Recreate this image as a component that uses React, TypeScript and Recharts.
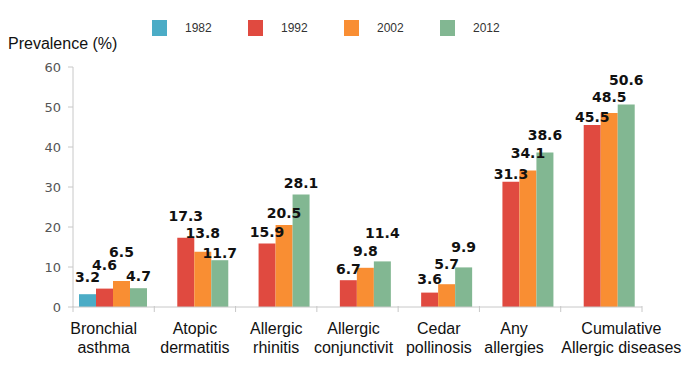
import React from 'react'
import { BarChart, Bar, XAxis, YAxis, LabelList } from 'recharts'

const categories = [
  'Bronchial\nasthma',
  'Atopic\ndermatitis',
  'Allergic\nrhinitis',
  'Allergic\nconjunctivit',
  'Cedar\npollinosis',
  'Any\nallergies',
  'Cumulative\nAllergic diseases',
]
const years = ['1982', '1992', '2002', '2012']
const v1982 = [3.2, null, null, null, null, null, null]
const v1992 = [4.6, 17.3, 15.9, 6.7, 3.6, 31.3, 45.5]
const v2002 = [6.5, 13.8, 20.5, 9.8, 5.7, 34.1, 48.5]
const v2012 = [4.7, 11.7, 28.1, 11.4, 9.9, 38.6, 50.6]
const yTicks = [0, 10, 20, 30, 40, 50, 60]

const colors = ['#4bacc6', '#e04a40', '#f98e33', '#82b792']
const axisGray = '#c8c8c8'

const data = categories.map((name, i) => ({
  name,
  y1982: v1982[i],
  y1992: v1992[i],
  y2002: v2002[i],
  y2012: v2012[i],
}))

const WIDTH = 692
const HEIGHT = 370
const PLOT_LEFT = 73
const PLOT_RIGHT = 642
const HALF_BAND = (PLOT_RIGHT - PLOT_LEFT) / categories.length / 2

// first and last labels are nudged so the long ones fit
const labelShift = [-10, 0, 0, -4, 0, -6, 20]

// how far each value label sits above its bar, staggered so neighbours don't collide
const labelGap = [
  [12, 0, 0, 0, 0, 0, 0],
  [19, 17, 6, 6, 9, 3, 3],
  [24, 14, 7, 12, 15, 13, 11],
  [7, 2, 7, 23, 15, 13, 20],
]

const valueFont = "'DejaVu Sans', Verdana, sans-serif"
const textFont = "'Liberation Sans', Arial, sans-serif"

function CategoryTick({ x, y, payload, index }: any) {
  const lines = String(payload.value).split('\n')
  const dx = labelShift[index] ?? 0
  return (
    <g>
      <line x1={x - HALF_BAND} x2={x - HALF_BAND} y1={y - 1} y2={y + 5} stroke={axisGray} />
      {index === categories.length - 1 && (
        <line x1={x + HALF_BAND} x2={x + HALF_BAND} y1={y - 1} y2={y + 5} stroke={axisGray} />
      )}
      <text x={x + dx} y={y} textAnchor="middle" fill="#111" fontSize={16} fontFamily={textFont}>
        {lines.map((line, k) => (
          <tspan key={k} x={x + dx} dy={k === 0 ? 27 : 19}>
            {line}
          </tspan>
        ))}
      </text>
    </g>
  )
}

function makeValueLabel(series: number) {
  return function ValueLabel({ x, y, width, value, index }: any) {
    if (value == null) return null
    const gap = labelGap[series][index] ?? 6
    return (
      <text
        x={Number(x) + Number(width) / 2}
        y={Number(y) - gap}
        textAnchor="middle"
        fill="#111"
        fontSize={14}
        fontWeight="bold"
        fontFamily={valueFont}
      >
        {value}
      </text>
    )
  }
}

function LegendRow() {
  return (
    <div style={{ position: 'absolute', left: 152, top: 20, display: 'flex' }}>
      {years.map((year, i) => (
        <div key={year} style={{ width: 96, display: 'flex', alignItems: 'center' }}>
          <span style={{ width: 15, height: 16, background: colors[i], display: 'inline-block' }} />
          <span style={{ marginLeft: 18, fontSize: 12, color: '#333', fontFamily: textFont }}>{year}</span>
        </div>
      ))}
    </div>
  )
}

export default function App() {
  const keys = ['y1982', 'y1992', 'y2002', 'y2012']
  return (
    <div style={{ position: 'absolute', left: 0, top: 0, width: WIDTH, height: HEIGHT, background: '#fff' }}>
      <LegendRow />
      <div
        style={{
          position: 'absolute',
          left: 8,
          top: 35,
          fontSize: 16,
          color: '#111',
          fontFamily: textFont,
          whiteSpace: 'nowrap',
        }}
      >
        Prevalence (%)
      </div>
      <BarChart
        width={WIDTH}
        height={HEIGHT}
        data={data}
        margin={{ top: 67, right: WIDTH - PLOT_RIGHT, bottom: 13, left: 0 }}
        barCategoryGap={6}
        barGap={0}
      >
        <XAxis
          dataKey="name"
          interval={0}
          height={50}
          tickLine={false}
          tickSize={0}
          tickMargin={0}
          stroke={axisGray}
          tick={<CategoryTick />}
        />
        <YAxis
          width={PLOT_LEFT}
          domain={[0, 60]}
          ticks={yTicks}
          stroke={axisGray}
          tickSize={5}
          tickMargin={7}
          tick={{ fill: '#555', fontSize: 13, fontFamily: valueFont }}
        />
        {keys.map((k, i) => (
          <Bar key={k} dataKey={k} name={years[i]} fill={colors[i]} isAnimationActive={false}>
            <LabelList dataKey={k} content={makeValueLabel(i)} />
          </Bar>
        ))}
      </BarChart>
    </div>
  )
}
